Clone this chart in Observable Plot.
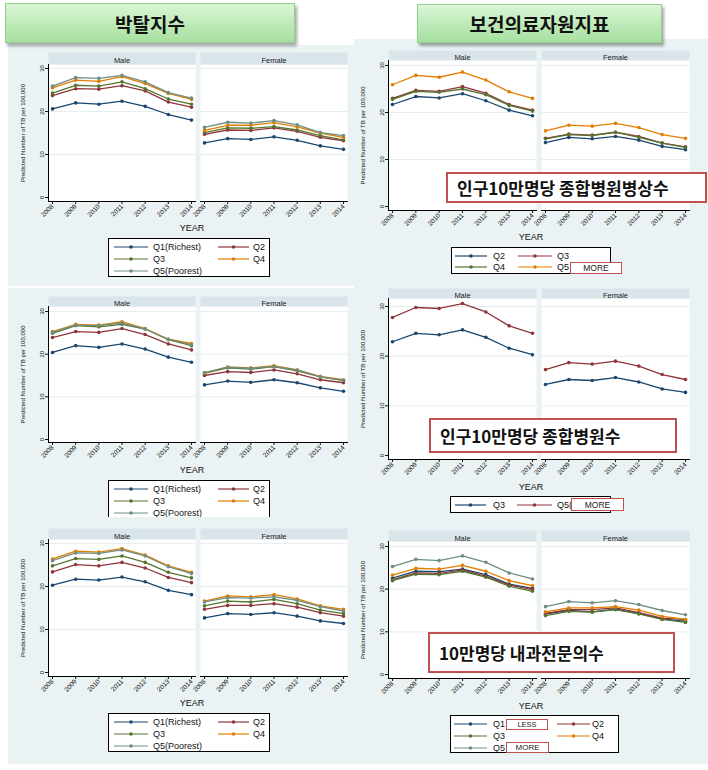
<!DOCTYPE html>
<html>
<head>
<meta charset="utf-8">
<script src="https://cdn.jsdelivr.net/npm/d3@7"></script>
<script src="https://cdn.jsdelivr.net/npm/@observablehq/plot@0.6"></script>
<style>
  body { margin: 0; background: #ffffff; }
  #page { position: relative; width: 708px; height: 770px; overflow: hidden; background: #ffffff;
          font-family: "Liberation Sans", Arial, sans-serif; }
  .panel { position: absolute; background: #EAF2F3; overflow: hidden; }
  .panel svg { position: absolute; left: 0; top: 0; }
  .xtitle { position: absolute; font-size: 9px; color: #111; transform: translate(-50%, -50%); white-space: nowrap; }
  .legend { position: absolute; background: #ffffff; border: 1px solid #000; box-sizing: border-box; overflow: hidden; }
  .legend svg { position: absolute; left: 0; top: 0; }
  .hdr { position: absolute; box-sizing: border-box; background: linear-gradient(#daf5d6, #a6e09f);
         border: 1px solid #93cf8d; box-shadow: 2px 3px 3px rgba(0,0,0,0.35);
         display: flex; align-items: center; justify-content: center;
         font: bold 19px "Noto Sans CJK KR", sans-serif; color: #111; z-index: 5; }
  .note { position: absolute; box-sizing: border-box; background: #ffffff; border: 2px solid #C0504D;
          display: flex; align-items: center; font: bold 17px "Noto Sans CJK KR", sans-serif; color: #111;
          padding-left: 9px; z-index: 6; white-space: nowrap; }
  .tag { position: absolute; box-sizing: border-box; background: #ffffff; border: 1.5px solid #C0504D;
         display: flex; align-items: center; justify-content: center; font-size: 8.5px; color: #222; z-index: 6; }
</style>
</head>
<body>
<div id="page"></div>
<script>
// ---------- shared values ----------
const years = [2008, 2009, 2010, 2011, 2012, 2013, 2014];
const sexes = ["Male", "Female"];
const yTicks = [0, 10, 20, 30];
const yTitle = "Predicted Number of TB per 100,000";
const xTitle = "YEAR";
const stataColors = ["#1A476F", "#90353B", "#55752F", "#E37E00", "#6E8E84"];

// ---------- headers and notes ----------
const headerLeft = "박탈지수";
const headerRight = "보건의료자원지표";
const noteBeds = "인구10만명당 종합병원병상수";
const noteHospitals = "인구10만명당 종합병원수";
const noteInternists = "10만명당 내과전문의수";
const tagMore = "MORE";
const tagLess = "LESS";

// ---------- panel 1 : deprivation index (top-left) ----------
const depSeries = ["Q1(Richest)", "Q2", "Q3", "Q4", "Q5(Poorest)"];
const depMale = [
  [20.6, 22.0, 21.7, 22.4, 21.2, 19.3, 18.0],
  [23.7, 25.3, 25.2, 26.0, 24.8, 22.2, 21.0],
  [24.3, 26.1, 25.9, 26.9, 25.3, 22.9, 21.7],
  [25.5, 27.3, 27.0, 28.1, 26.5, 24.2, 22.8],
  [25.9, 27.9, 27.7, 28.4, 26.9, 24.4, 23.1]
];
const depFemale = [
  [12.7, 13.7, 13.5, 14.1, 13.3, 12.0, 11.2],
  [14.7, 15.7, 15.6, 16.2, 15.4, 14.0, 13.2],
  [15.1, 16.2, 16.1, 16.5, 15.7, 14.4, 13.4],
  [15.6, 16.8, 16.8, 17.4, 16.4, 15.0, 14.0],
  [16.3, 17.5, 17.3, 17.9, 16.9, 15.1, 14.4]
];

// ---------- panel 2 : general hospital beds (top-right) ----------
const bedSeries = ["Q2", "Q3", "Q4", "Q5"];
const bedMale = [
  [21.7, 23.4, 23.1, 24.0, 22.5, 20.5, 19.3],
  [23.0, 24.7, 24.5, 25.5, 24.1, 21.7, 20.5],
  [22.8, 24.5, 24.3, 25.0, 23.8, 21.5, 20.3],
  [25.9, 27.9, 27.5, 28.6, 26.9, 24.4, 23.0]
];
const bedFemale = [
  [13.6, 14.7, 14.4, 14.9, 14.1, 12.8, 12.1],
  [14.5, 15.4, 15.2, 15.8, 14.9, 13.5, 12.7],
  [14.4, 15.3, 15.1, 15.8, 14.7, 13.5, 12.6],
  [16.1, 17.3, 17.1, 17.7, 16.8, 15.3, 14.5]
];

// ---------- panel 3 : deprivation index (middle-left) ----------
const dep2Series = ["Q1(Richest)", "Q2", "Q3", "Q4", "Q5(Poorest)"];
const dep2Male = [
  [20.4, 22.0, 21.6, 22.4, 21.2, 19.3, 18.1],
  [23.9, 25.3, 25.1, 26.0, 24.6, 22.4, 21.0],
  [24.9, 26.7, 26.4, 27.0, 25.9, 23.4, 22.0],
  [25.3, 27.0, 26.8, 27.6, 26.0, 23.5, 22.5],
  [25.1, 26.8, 26.7, 27.3, 25.9, 23.5, 22.2]
];
const dep2Female = [
  [12.8, 13.7, 13.4, 14.0, 13.3, 12.1, 11.3],
  [15.0, 15.9, 15.7, 16.3, 15.4, 14.0, 13.3],
  [15.5, 16.8, 16.5, 17.1, 16.1, 14.7, 13.8],
  [15.6, 17.0, 16.8, 17.3, 16.3, 14.8, 14.0],
  [15.7, 16.9, 16.7, 17.1, 16.3, 14.7, 13.9]
];

// ---------- panel 4 : general hospitals (middle-right) ----------
const hospSeries = ["Q3", "Q5("];
const hospMale = [
  [22.9, 24.6, 24.3, 25.3, 23.8, 21.6, 20.3],
  [27.8, 29.8, 29.6, 30.6, 28.9, 26.1, 24.6]
];
const hospFemale = [
  [14.3, 15.3, 15.1, 15.7, 14.8, 13.4, 12.7],
  [17.3, 18.7, 18.4, 19.0, 18.0, 16.3, 15.3]
];

// ---------- panel 5 : deprivation index (bottom-left) ----------
const dep3Series = ["Q1(Richest)", "Q2", "Q3", "Q4", "Q5(Poorest)"];
const dep3Male = [
  [20.3, 21.7, 21.5, 22.2, 21.1, 19.1, 18.1],
  [23.4, 25.1, 24.8, 25.6, 24.3, 22.1, 20.9],
  [24.8, 26.5, 26.3, 27.1, 25.6, 23.3, 22.0],
  [26.4, 28.2, 28.0, 28.8, 27.3, 24.8, 23.3],
  [26.0, 27.8, 27.7, 28.5, 27.1, 24.6, 23.0]
];
const dep3Female = [
  [12.7, 13.7, 13.5, 13.9, 13.1, 12.0, 11.4],
  [14.7, 15.6, 15.6, 16.0, 15.2, 13.9, 13.1],
  [15.5, 16.6, 16.4, 17.0, 16.0, 14.5, 13.7],
  [16.6, 17.8, 17.6, 18.1, 17.1, 15.5, 14.7],
  [16.4, 17.4, 17.3, 17.6, 16.8, 15.3, 14.3]
];

// ---------- panel 6 : internal-medicine specialists (bottom-right) ----------
const intSeries = ["Q1", "Q2", "Q3", "Q4", "Q5"];
const intMale = [
  [22.6, 24.2, 24.1, 24.7, 23.4, 21.2, 20.2],
  [22.2, 23.8, 23.7, 24.5, 23.0, 21.0, 19.9],
  [22.0, 23.5, 23.4, 24.2, 22.8, 20.7, 19.5],
  [23.3, 24.9, 24.7, 25.6, 24.2, 22.0, 20.8],
  [25.3, 27.0, 26.7, 27.8, 26.3, 23.8, 22.4]
];
const intFemale = [
  [14.2, 15.0, 14.7, 15.3, 14.3, 13.0, 12.5],
  [14.3, 15.2, 15.2, 15.6, 14.5, 13.2, 12.9],
  [13.8, 14.8, 14.6, 15.2, 14.2, 12.9, 12.2],
  [14.7, 15.6, 15.6, 15.9, 15.1, 13.6, 12.9],
  [15.9, 17.1, 16.8, 17.3, 16.4, 15.0, 14.0]
];

// ---------- builders ----------
const page = document.getElementById("page");
const FONT = "Liberation Sans, Arial, sans-serif";

function makeLegend(parent, series, colors, L) {
  const box = document.createElement("div");
  box.className = "legend";
  Object.assign(box.style, { left: L.left + "px", top: L.top + "px", width: L.w + "px", height: L.h + "px" });
  if (L.noBottom) box.style.borderBottom = "none";
  const svg = d3.create("svg").attr("width", L.w).attr("height", L.h + 10);
  series.forEach((s, i) => {
    const col = L.cols[i % 2];
    const y = L.rows[Math.floor(i / 2)] - 1;
    svg.append("line").attr("x1", col[0]).attr("x2", col[1]).attr("y1", y).attr("y2", y)
      .attr("stroke", colors[i]).attr("stroke-width", 1.2);
    svg.append("circle").attr("cx", (col[0] + col[1]) / 2).attr("cy", y).attr("r", 1.8).attr("fill", colors[i]);
    svg.append("text").attr("x", col[2]).attr("y", y).attr("dy", "0.35em")
      .attr("font-size", 9).attr("font-family", FONT).attr("fill", "#111").text(s);
  });
  box.appendChild(svg.node());
  parent.appendChild(box);
}

function makePanel(cfg) {
  const div = document.createElement("div");
  div.className = "panel";
  Object.assign(div.style, { left: cfg.left + "px", top: cfg.top + "px", width: cfg.w + "px", height: cfg.h + "px" });

  const rows = [];
  cfg.series.forEach((s, i) => {
    years.forEach((yr, j) => {
      rows.push({ sex: "Male", series: s, year: yr, value: cfg.male[i][j] });
      rows.push({ sex: "Female", series: s, year: yr, value: cfg.female[i][j] });
    });
  });
  const colors = stataColors.slice(0, cfg.series.length);
  const innerH = cfg.h - cfg.mt - cfg.mb;

  const chart = Plot.plot({
    width: cfg.w,
    height: cfg.h,
    marginLeft: cfg.ml,
    marginRight: cfg.mr,
    marginTop: cfg.mt,
    marginBottom: cfg.mb,
    style: { background: "transparent", fontFamily: FONT, color: "#111" },
    fx: { domain: sexes, padding: 0.033, axis: null },
    x: { domain: [2008, 2014], inset: 4 },
    y: { domain: [0, 30], insetTop: cfg.it, insetBottom: cfg.ib },
    color: { domain: cfg.series, range: colors },
    marks: [
      Plot.frame({ fill: "#ffffff" }),
      Plot.frame({ fill: "#D9E5EA", insetTop: -cfg.strip, insetBottom: innerH }),
      Plot.text(sexes, { fx: d => d, text: d => d, frameAnchor: "top", dy: -cfg.strip / 2 - 0.5,
                         fontSize: 7.5, fill: "#222" }),
      Plot.ruleY([10, 20, 30], { stroke: "#E4EDF0", strokeWidth: 1 }),
      Plot.line(rows, { fx: "sex", x: "year", y: "value", z: "series", stroke: "series", strokeWidth: 1.3 }),
      Plot.dot(rows, { fx: "sex", x: "year", y: "value", fill: "series", r: 1.8 }),
      Plot.frame({ anchor: "bottom", stroke: "#000" }),
      Plot.frame({ anchor: "left", stroke: "#000", facetAnchor: "left" }),
      Plot.axisX({ ticks: years, tickFormat: d => String(d), tickRotate: -45, tickSize: 3, tickPadding: 1,
                   fontSize: 6.5, label: null }),
      Plot.axisY({ ticks: yTicks, tickRotate: -90, tickSize: 3, tickPadding: 2, fontSize: 6,
                   label: yTitle, labelAnchor: "center", labelArrow: "none", labelOffset: cfg.lo,
                   facetAnchor: "left" })
    ]
  });
  div.appendChild(chart);

  const xt = document.createElement("div");
  xt.className = "xtitle";
  xt.textContent = xTitle;
  Object.assign(xt.style, { left: cfg.yearX + "px", top: cfg.yearY + "px" });
  div.appendChild(xt);

  makeLegend(div, cfg.series, colors, cfg.legend);
  page.appendChild(div);
}

// left-column legend geometry (two columns)
const leftCols = [[5, 39, 44], [109, 140, 144]];

makePanel({ series: depSeries, male: depMale, female: depFemale,
  left: 8, top: 45, w: 346, h: 241, ml: 39, mr: 7, mt: 19, mb: 85, strip: 12, it: 4, ib: 4, lo: 28,
  yearX: 184, yearY: 183,
  legend: { left: 100, top: 193, w: 162, h: 39, cols: leftCols, rows: [9, 21, 33] } });

makePanel({ series: dep2Series, male: dep2Male, female: dep2Female,
  left: 8, top: 288, w: 346, h: 237, ml: 39, mr: 7, mt: 18, mb: 83, strip: 10, it: 5, ib: 3, lo: 28,
  yearX: 184, yearY: 182,
  legend: { left: 100, top: 192, w: 162, h: 37, cols: leftCols, rows: [9, 21, 33], noBottom: true } });

makePanel({ series: dep3Series, male: dep3Male, female: dep3Female,
  left: 8, top: 521, w: 346, h: 243, ml: 39, mr: 7, mt: 18, mb: 88, strip: 11, it: 4, ib: 4, lo: 28,
  yearX: 184, yearY: 182,
  legend: { left: 100, top: 192, w: 162, h: 39, cols: leftCols, rows: [9, 21, 33] } });

makePanel({ series: bedSeries, male: bedMale, female: bedFemale,
  left: 354, top: 39, w: 354, h: 243, ml: 33, mr: 19, mt: 21, mb: 72, strip: 10, it: 5, ib: 4, lo: 28,
  yearX: 177, yearY: 198,
  legend: { left: 97, top: 208, w: 160, h: 27, cols: [[3, 35, 41], [66, 100, 105]], rows: [9, 20] } });

makePanel({ series: hospSeries, male: hospMale, female: hospFemale,
  left: 354, top: 282, w: 354, h: 238, ml: 33, mr: 19, mt: 16, mb: 61, strip: 10, it: 8, ib: 4, lo: 28,
  yearX: 177, yearY: 205,
  legend: { left: 96, top: 214, w: 161, h: 17, cols: [[4, 35, 42], [66, 101, 106]], rows: [9] } });

makePanel({ series: intSeries, male: intMale, female: intFemale,
  left: 354, top: 520, w: 354, h: 244, ml: 33, mr: 19, mt: 21, mb: 86, strip: 11, it: 5, ib: 4, lo: 28,
  yearX: 177, yearY: 186,
  legend: { left: 96, top: 195, w: 169, h: 38, cols: [[3, 36, 42], [106, 139, 141]], rows: [9, 21, 33] } });

// ---------- overlays ----------
function overlay(cls, text, x, y, w, h, extra) {
  const el = document.createElement("div");
  el.className = cls;
  el.textContent = text;
  Object.assign(el.style, { left: x + "px", top: y + "px", width: w + "px", height: h + "px" }, extra || {});
  page.appendChild(el);
}
overlay("hdr", headerLeft, 5, 3, 290, 40);
overlay("hdr", headerRight, 417, 4, 245, 39);
overlay("note", noteBeds, 446, 172, 261, 31);
overlay("note", noteHospitals, 429, 418, 248, 35);
overlay("note", noteInternists, 428, 632, 247, 41);
overlay("tag", tagMore, 570, 262, 52, 12);
overlay("tag", tagMore, 571, 498, 53, 13);
overlay("tag", tagLess, 506, 719, 42, 11, { fontSize: "7.5px" });
overlay("tag", tagMore, 506, 742, 43, 11, { fontSize: "8px" });
</script>
</body>
</html>
